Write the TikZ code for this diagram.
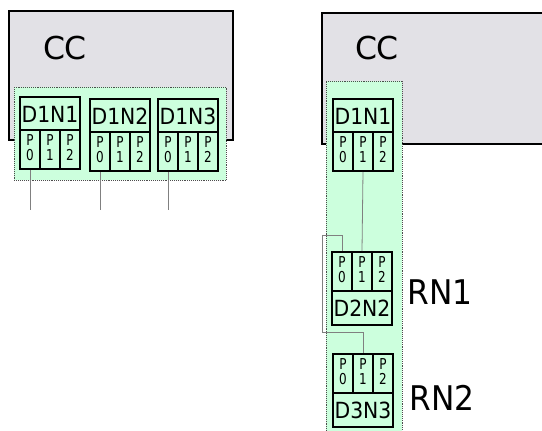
\documentclass[tikz,border=0pt]{standalone}
\usepackage{fontspec}
\setmainfont{DejaVu Sans}
\definecolor{grn}{RGB}{204,255,221}
\definecolor{ccgray}{RGB}{226,225,230}
\newcommand\pp[1]{\scalebox{0.8}[1]{\begin{tabular}{@{}c@{}}P\\#1\end{tabular}}}
\newcommand\hd[1]{\scalebox{0.97}[1.06]{#1}}
\newcommand\topblock[4]{%
  \node[hdr] (#1) at (#2,#3) {\hd{#4}};
  \node[pcell] (#1p0) at (#2,#3+33) {\pp{0}};
  \node[pcell] (#1p1) at (#2+20,#3+33) {\pp{1}};
  \node[pcell] (#1p2) at (#2+40,#3+33) {\pp{2}};
}
\newcommand\botblock[4]{%
  \node[pcell] (#1p0) at (#2,#3) {\pp{0}};
  \node[pcell] (#1p1) at (#2+20,#3) {\pp{1}};
  \node[pcell] (#1p2) at (#2+40,#3) {\pp{2}};
  \node[hdr] (#1) at (#2,#3+39) {\hd{#4}};
}
\begin{document}
\begin{tikzpicture}[x=1pt,y=-1pt,
  ccbox/.style={draw=black, line width=2pt, fill=ccgray},
  grp/.style={draw=black!70, densely dotted, line width=0.9pt, fill=grn},
  hdr/.style={draw=black, line width=2pt, fill=grn, minimum width=60pt, minimum height=34pt, inner sep=0pt, anchor=north west, font=\fontsize{21}{21}\selectfont},
  pcell/.style={draw=black, line width=2pt, fill=grn, minimum width=20pt, minimum height=39pt, inner sep=0pt, anchor=north west, font=\fontsize{15}{12.5}\selectfont},
  wire/.style={draw=black!50, line width=0.8pt},
  big/.style={inner sep=0pt, font=\fontsize{31.5}{31.5}\selectfont},
  rlabel/.style={inner sep=0pt, font=\fontsize{34}{34}\selectfont}
]
\useasboundingbox (0,0) rectangle (542,431);
% left part
\node[ccbox, minimum width=224pt, minimum height=129pt, anchor=north west, inner sep=0pt] (ccL) at (8,10) {};
\node[big] (ccLt) at (65,48) {CC};
\node[grp, minimum width=212pt, minimum height=93pt, anchor=north west, inner sep=0pt] (gL) at (14,87) {};
\topblock{La}{19}{96}{D1N1}
\topblock{Lb}{89}{98}{D1N2}
\topblock{Lc}{157}{98}{D1N3}
\coordinate (ea) at (Lap0.south |- 0,210);
\coordinate (eb) at (Lbp0.south |- 0,210);
\coordinate (ec) at (Lcp0.south |- 0,210);
\draw[wire] (Lap0.south) -- (ea);
\draw[wire] (Lbp0.south) -- (eb);
\draw[wire] (Lcp0.south) -- (ec);
% right part
\node[ccbox, minimum width=230pt, minimum height=131pt, anchor=north west, inner sep=0pt] (ccR) at (321,12) {};
\node[big] (ccRt) at (377,48) {CC};
\node[grp, minimum width=76pt, minimum height=360pt, anchor=north west, inner sep=0pt] (gR) at (326,81) {};
\topblock{Ra}{332}{98}{D1N1}
\botblock{Rb}{331}{251}{D2N2}
\botblock{Rc}{332}{353}{D3N3}
\node[rlabel] (rn1) at (440,292) {\scalebox{0.92}[1]{RN1}};
\node[rlabel] (rn2) at (442,398) {\scalebox{0.92}[1]{RN2}};
\draw[wire] (Rap1.south) -- (Rbp1.north);
\coordinate (k1) at (Rbp0.north |- 0,235);
\coordinate (k2) at (322,235);
\coordinate (k3) at (322,332);
\coordinate (k4) at (Rcp1.north |- 0,332);
\draw[wire] (Rbp0.north) -- (k1) -- (k2) -- (k3) -- (k4) -- (Rcp1.north);
\end{tikzpicture}
\end{document}
